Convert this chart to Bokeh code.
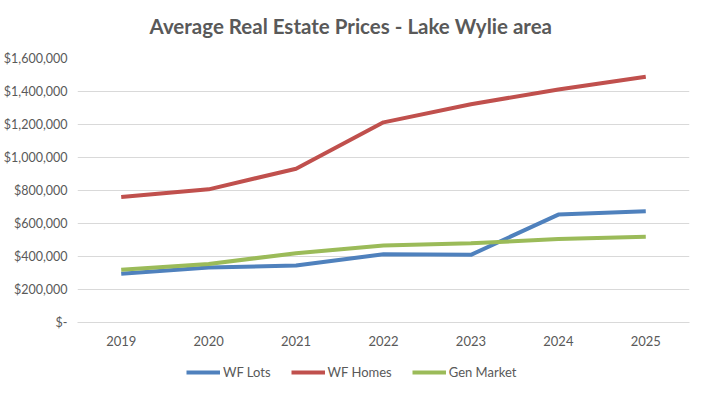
from bokeh.plotting import figure
from bokeh.layouts import column
from bokeh.models import FactorRange, Range1d, Legend, LegendItem, CustomJSTickFormatter, Label
from bokeh.embed import file_html
from bokeh.resources import INLINE

title_text = "Average Real Estate Prices - Lake Wylie area"
years = ["2019", "2020", "2021", "2022", "2023", "2024", "2025"]
wf_lots = [295000, 333000, 345000, 414000, 410000, 654000, 674000]
wf_homes = [760000, 807000, 932000, 1213000, 1323000, 1412000, 1489000]
gen_market = [319000, 355000, 420000, 466000, 480000, 506000, 520000]
series_names = ["WF Lots", "WF Homes", "Gen Market"]
colors = ["#4F81BD", "#C0504D", "#9BBB59"]

FONT = "Lato"
TXT = "#595959"

def strip(h):
    f = figure(width=701, height=h, output_backend="svg", toolbar_location=None,
               x_range=Range1d(0, 1), y_range=Range1d(0, 1), min_border=0)
    f.axis.visible = False
    f.grid.visible = False
    f.outline_line_color = None
    return f

# title strip
tf = strip(44)
tf.add_layout(Label(x=72, y=19, x_units="screen", y_units="screen", text=title_text,
                    text_baseline="middle", text_font=FONT, text_font_size="20.5px",
                    text_font_style="bold", text_color=TXT))

p = figure(width=701, height=310, output_backend="svg", toolbar_location=None,
           x_range=FactorRange(*years, range_padding=0), y_range=Range1d(0, 1600000),
           min_border_left=74, min_border_right=12, min_border_top=14, min_border_bottom=32)
p.outline_line_color = None

p.yaxis.ticker = list(range(0, 1600001, 200000))
p.yaxis.formatter = CustomJSTickFormatter(code="""
if (tick == 0) { return '$-'; }
return '$' + tick.toString().replace(/\\B(?=(\\d{3})+(?!\\d))/g, ',');
""")
p.yaxis.axis_line_color = None
p.yaxis.major_tick_line_color = None
p.yaxis.minor_tick_line_color = None
p.yaxis.major_tick_out = 0
p.yaxis.major_label_standoff = 10
p.xaxis.axis_line_color = "#D9D9D9"
p.xaxis.major_tick_line_color = None
p.xaxis.major_tick_out = 0
p.xaxis.major_label_standoff = 13
for ax in (p.xaxis, p.yaxis):
    ax.major_label_text_font = FONT
    ax.major_label_text_color = TXT
p.xaxis.major_label_text_font_size = "13px"
p.yaxis.major_label_text_font_size = "12.5px"
p.xgrid.grid_line_color = None
p.ygrid.grid_line_color = "#D9D9D9"

for vals, c in zip([wf_lots, wf_homes, gen_market], colors):
    p.line(years, vals, line_color=c, line_width=4)

# legend strip below the chart
lg = strip(28)
items = []
for name, c in zip(series_names, colors):
    r = lg.line([-5, -4], [-5, -4], line_color=c, line_width=4)
    items.append(LegendItem(label=name, renderers=[r]))
legend = Legend(items=items, orientation="horizontal", location=(109, 0),
                label_text_font=FONT, label_text_font_size="13px", label_text_color=TXT,
                glyph_width=34, label_standoff=3, spacing=20, border_line_color=None,
                background_fill_alpha=0, padding=4, margin=0)
lg.add_layout(legend, "center")

open("out.html", "w").write(file_html(column(tf, p, lg, spacing=0), INLINE))
